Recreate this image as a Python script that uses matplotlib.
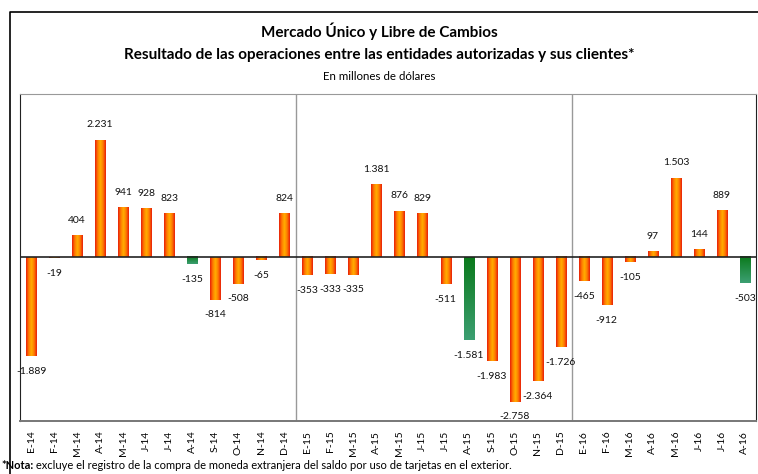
import numpy as np
import matplotlib
matplotlib.use('Agg')
import matplotlib.pyplot as plt
from matplotlib.colors import LinearSegmentedColormap
from matplotlib.lines import Line2D

plt.rcParams['font.family'] = ['Lato', 'DejaVu Sans']

# monthly results (millions of USD)
months = ['E-14', 'F-14', 'M-14', 'A-14', 'M-14', 'J-14', 'J-14', 'A-14', 'S-14', 'O-14', 'N-14', 'D-14',
          'E-15', 'F-15', 'M-15', 'A-15', 'M-15', 'J-15', 'J-15', 'A-15', 'S-15', 'O-15', 'N-15', 'D-15',
          'E-16', 'F-16', 'M-16', 'A-16', 'M-16', 'J-16', 'J-16', 'A-16']
values = [-1889, -19, 404, 2231, 941, 928, 823, -135, -814, -508, -65, 824,
          -353, -333, -335, 1381, 876, 829, -511, -1581, -1983, -2758, -2364, -1726,
          -465, -912, -105, 97, 1503, 144, 889, -503]
green_idx = [7, 19, 31]  # August months drawn in green
year_breaks = [11.5, 23.5]

orange_cmap = LinearSegmentedColormap.from_list(
    'org', ['#e81e0a', '#ff7a00', '#ffae00', '#ff7a00', '#e81e0a'])
green_cmap = LinearSegmentedColormap.from_list('grn', ['#0b7a1c', '#3c9f72'])


def fmt(v):
    return '{:,}'.format(v).replace(',', '.')


fig = plt.figure(figsize=(7.58, 4.74), dpi=100)
ax = fig.add_axes([20 / 758, 1 - 421 / 474, 736 / 758, 327 / 474])

w = 0.44
hgrad = np.linspace(0, 1, 64).reshape(1, -1)
vgrad = np.linspace(0, 1, 64).reshape(-1, 1)
for i, v in enumerate(values):
    if i in green_idx:
        ax.imshow(vgrad, cmap=green_cmap, extent=[i - w / 2, i + w / 2, v, 0],
                  aspect='auto', origin='upper', interpolation='bilinear', zorder=2)
    else:
        ax.imshow(hgrad, cmap=orange_cmap, extent=[i - w / 2, i + w / 2, min(v, 0), max(v, 0)],
                  aspect='auto', interpolation='bilinear', zorder=2)
    off = 11 if v >= 0 else -11
    ax.annotate(fmt(v), xy=(i, v), xytext=(0, off), textcoords='offset points',
                ha='center', va='center', fontsize=7.5, color='#111111')

ax.axhline(0, color='#222222', lw=1.2, zorder=3)
for b in year_breaks:
    ax.axvline(b, color='#999999', lw=1, zorder=1)

ax.set_xlim(-0.48, len(values) - 0.52)
ax.set_ylim(-3130, 3110)
ax.set_xticks(range(len(months)))
ax.set_xticklabels(months, rotation=90, fontsize=7.5)
ax.tick_params(axis='x', length=0, pad=7)
ax.set_yticks([])
ax.spines['left'].set_color('#222222')
ax.spines['right'].set_color('#222222')
ax.spines['top'].set_color('#999999')
ax.spines['bottom'].set_color('#777777')
ax.spines['bottom'].set_linewidth(1.4)

# outer frame (left and top only)
fx = 10 / 758
fy = 1 - 12 / 474
fig.add_artist(Line2D([fx, fx, 1], [0, fy, fy], transform=fig.transFigure, color='black', lw=1.2))

fig.text(0.5, 1 - 31 / 474, 'Mercado Único y Libre de Cambios', ha='center', va='center',
         fontsize=11, fontweight='bold')
fig.text(0.5, 1 - 55 / 474, 'Resultado de las operaciones entre las entidades autorizadas y sus clientes*',
         ha='center', va='center', fontsize=11, fontweight='bold')
fig.text(0.5, 1 - 76 / 474, 'En millones de dólares', ha='center', va='center', fontsize=8.3)

nota = fig.text(1 / 758, 1 - 469 / 474, '*Nota:', ha='left', va='baseline', fontsize=8, fontweight='bold')
plt.annotate(' excluye el registro de la compra de moneda extranjera del saldo por uso de tarjetas en el exterior.',
             xy=(1, 0), xycoords=nota, ha='left', va='bottom', fontsize=8,
             annotation_clip=False)

fig.savefig('out.png', dpi=100)
